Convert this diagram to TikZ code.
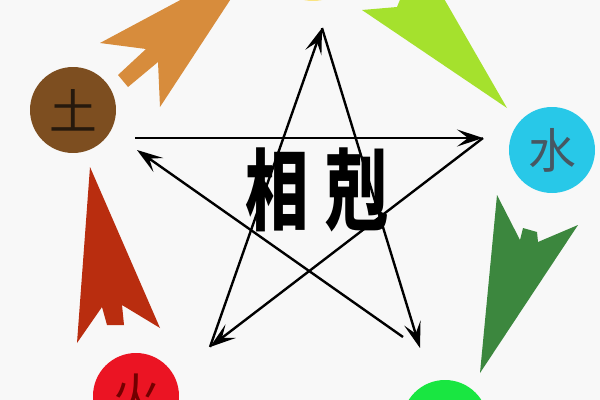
\documentclass[tikz,border=0pt]{standalone}
\usepackage{fontspec}
\newfontfamily\cjk{Noto Sans CJK SC}
\usetikzlibrary{arrows.meta}
\definecolor{bgC}{RGB}{248,248,248}
\definecolor{tuC}{RGB}{125,78,32}
\definecolor{shuiC}{RGB}{40,200,232}
\definecolor{huoC}{RGB}{235,20,35}
\definecolor{muC}{RGB}{25,230,65}
\definecolor{jinC}{RGB}{250,228,130}
\definecolor{orangeA}{RGB}{215,140,60}
\definecolor{limeA}{RGB}{165,225,45}
\definecolor{greenA}{RGB}{60,135,62}
\definecolor{redA}{RGB}{185,45,15}

\begin{document}
\begin{tikzpicture}[x=0.05cm, y=-0.05cm,
    elem/.style = {circle, minimum size=4.3cm, inner sep=0pt,
        font=\cjk\fontsize{68}{68}\selectfont},
    title/.style = {font=\cjk\bfseries\fontsize{90}{90}\selectfont, yscale=1.4},
    ke/.style = {-{Stealth[length=1.3cm, width=0.85cm, inset=0.55cm]}, line width=3.4pt}]
\useasboundingbox (0,0) rectangle (600,400);
\clip (0,0) rectangle (600,400);
\fill[bgC] (0,0) rectangle (600,400);

\fill[orangeA] (257,-41) -- (100,43) -- (146,49) -- (118,75) -- (128,87)
    -- (158,62) -- (160,107) -- cycle;
\fill[limeA] (507,108) -- (362,10) -- (397,7) -- (404,-10) -- (439,-10) -- cycle;
\fill[greenA] (480,373) -- (497,195) -- (520,240) -- (523,228) -- (537,232)
    -- (538,242) -- (578,225) -- cycle;
\fill[redA] (90,167) -- (77,343) -- (102,307) -- (107,325) -- (124,325)
    -- (122,305) -- (160,328) -- cycle;

\node[elem, fill=jinC] (jin) at (313,-42) {};
\node[elem, fill=shuiC, text=cyan!30!black] (shui) at (552,150) {水};
\node[elem, fill=muC] (mu) at (445,423) {};
\node[elem, fill=huoC, text=red!45!black] (huo) at (136,396) {火};
\node[elem, fill=tuC, text=black!80!brown] (tu) at (73,110) {土};

\coordinate (t) at (322,28);
\coordinate (ul) at (135,138);
\coordinate (ula) at (137,150);
\coordinate (ur) at (483,138);
\coordinate (ll) at (210,347);
\coordinate (lr) at (420,348);
\coordinate (lra) at (403,337);

\draw[ke] (ll) -- (t);
\draw[ke] (t) -- (lr);
\draw[ke] (lra) -- (ula);
\draw[ke] (ul) -- (ur);
\draw[ke] (ur) -- (ll);

\node[title] (xiang) at (277,190) {相};
\node[title] (kewd) at (357,190) {剋};
\end{tikzpicture}
\end{document}
